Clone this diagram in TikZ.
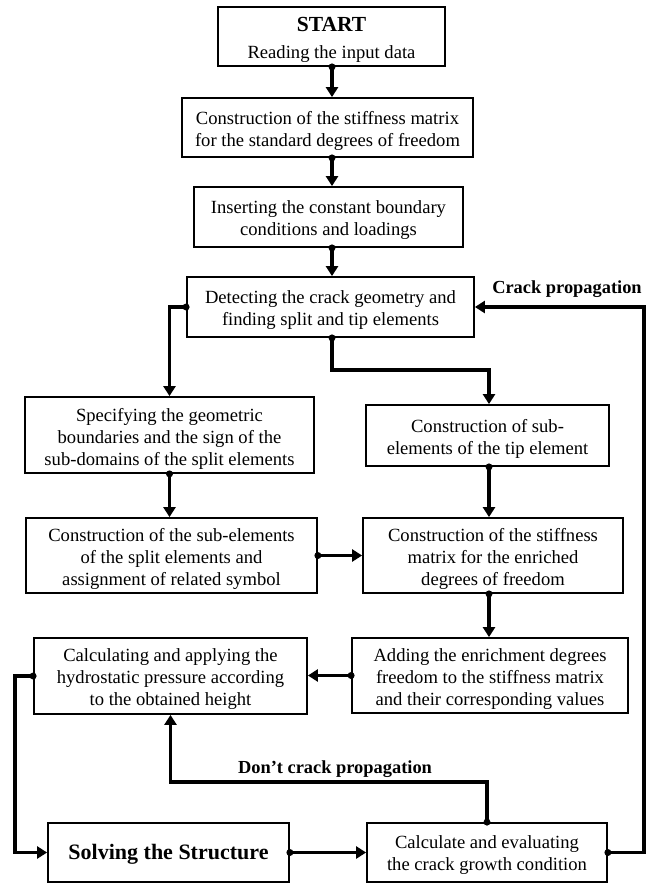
\documentclass[tikz,border=0pt]{standalone}
\usepackage{fontspec}
\setmainfont{Liberation Serif}
\usetikzlibrary{arrows.meta}
\begin{document}
\begin{tikzpicture}[x=1pt,y=-1pt,
  box/.style={draw, line width=1.8pt, inner sep=0pt},
  txt/.style={align=center, inner sep=0pt, font=\fontsize{18.6}{22}\selectfont},
  conn/.style={line width=3.3pt, -{Triangle[length=10pt,width=12pt]}},
  dotc/.style={fill=black},
  lbl/.style={font=\fontsize{18.4}{21}\selectfont\bfseries, inner sep=0pt}]
\useasboundingbox (0,0) rectangle (656,883);

\node[box, minimum width=227pt, minimum height=59pt] (b1) at (331.5,36.5) {};
\node[box, minimum width=291pt, minimum height=59pt] (b2) at (327.5,127.5) {};
\node[box, minimum width=269pt, minimum height=60pt] (b3) at (328.5,217) {};
\node[box, minimum width=287pt, minimum height=60pt] (b4) at (330.5,307) {};
\node[box, minimum width=289pt, minimum height=76pt] (b5) at (169.5,435) {};
\node[box, minimum width=243pt, minimum height=61pt] (b6) at (487.5,435.5) {};
\node[box, minimum width=291pt, minimum height=75pt] (b7) at (171.5,555.5) {};
\node[box, minimum width=260pt, minimum height=75pt] (b8) at (493,555.5) {};
\node[box, minimum width=273pt, minimum height=76pt] (b9) at (170.5,676) {};
\node[box, minimum width=276pt, minimum height=75pt] (b10) at (490,675.5) {};
\node[box, minimum width=241pt, minimum height=59pt] (b11) at (168.5,852.5) {};
\node[box, minimum width=240pt, minimum height=59pt] (b12) at (487,852.5) {};

\node[txt] (t1) at ([yshift=-3pt]b1.center)
  {{\fontsize{21.5}{24}\selectfont\bfseries START}\\[5pt]Reading the input data};
\node[txt] (t2) at ([yshift=-3pt]b2.center)
  {Construction of the stiffness matrix\\for the standard degrees of freedom};
\node[txt] (t3) at ([yshift=-3pt]b3.center)
  {Inserting the constant boundary\\conditions and loadings};
\node[txt] (t4) at ([yshift=-3pt]b4.center)
  {Detecting the crack geometry and\\finding split and tip elements};
\node[txt] (t5) at ([yshift=-3.5pt]b5.center)
  {Specifying the geometric\\boundaries and the sign of the\\sub-domains of the split elements};
\node[txt] (t6) at ([yshift=-3pt]b6.center)
  {Construction of sub-\\elements of the tip element};
\node[txt] (t7) at ([yshift=-3.5pt]b7.center)
  {Construction of the sub-elements\\of the split elements and\\assignment of related symbol};
\node[txt] (t8) at ([yshift=-3.5pt]b8.center)
  {Construction of the stiffness\\matrix for the enriched\\degrees of freedom};
\node[txt] (t9) at ([yshift=-3.5pt]b9.center)
  {Calculating and applying the\\hydrostatic pressure according\\to the obtained height};
\node[txt] (t10) at ([yshift=-3.5pt]b10.center)
  {Adding the enrichment degrees\\freedom to the stiffness matrix\\and their corresponding values};
\node[txt] (t11) at ([yshift=-1.5pt]b11.center)
  {\fontsize{22}{24}\selectfont\bfseries Solving the Structure};
\node[txt] (t12) at ([yshift=-3pt]b12.center)
  {Calculate and evaluating\\the crack growth condition};

\node[lbl] (l1) at (567,289) {Crack propagation};
\node[lbl] (l2) at (335,769) {Don’t crack propagation};

\coordinate (ax) at (332,0);
\coordinate (rx) at (489,0);
\coordinate (lx) at (15,0);
\coordinate (rr) at (644,0);
\coordinate (j) at (0,370);
\coordinate (dc) at (0,782);

% top chain
\draw[conn] (b1.south -| ax) -- (ax |- b2.north);
\draw[conn] (b2.south -| ax) -- (ax |- b3.north);
\draw[conn] (b3.south -| ax) -- (ax |- b4.north);
% split from detecting
\draw[conn] (b4.west) -| (b5.north);
\draw[conn] (b4.south -| ax) -- (ax |- j) -- (rx |- j) -- (rx |- b6.north);
% columns
\draw[conn] (b5.south) -- (b5.south |- b7.north);
\draw[conn] (rx |- b6.south) -- (rx |- b8.north);
\draw[conn] (b7.east) -- (b7.east -| b8.west);
\draw[conn] (rx |- b8.south) -- (rx |- b10.north);
\draw[conn] (b10.west) -- (b10.west -| b9.east);
% loop to solve
\draw[conn] (b9.west) -- (b9.west -| lx) -- (lx |- b11.west) -- (b11.west);
\draw[conn] (b11.east) -- (b11.east -| b12.west);
% don't crack propagation
\draw[conn] (b12.north) -- (b12.north |- dc) -- (b9.south |- dc) -- (b9.south);
% crack propagation
\draw[conn] (b12.east) -- (b12.east -| rr) -- (rr |- b4.east) -- (b4.east);

% start dots
\foreach \p in {b1.south -| ax, b2.south -| ax, b3.south -| ax, b4.south -| ax,
  rx |- b6.south, rx |- b8.south}
  \fill[dotc] (\p) circle[radius=3.5pt];
\foreach \p in {b4.west, b5.south, b7.east, b10.west, b9.west, b11.east, b12.north, b12.east}
  \fill[dotc] (\p) circle[radius=3.5pt];
\end{tikzpicture}
\end{document}
